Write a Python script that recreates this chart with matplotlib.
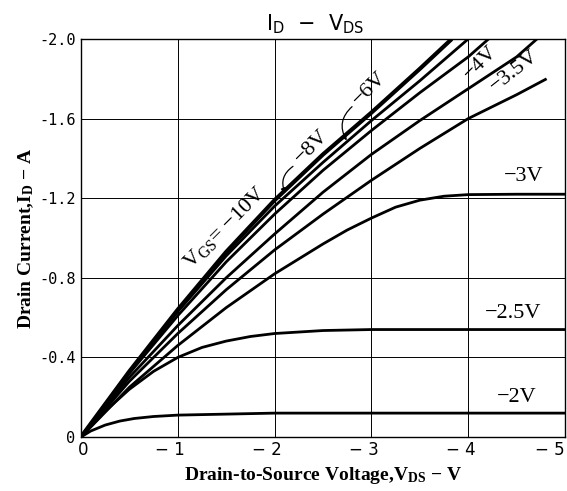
import matplotlib.pyplot as plt
import matplotlib.transforms as mtransforms
import numpy as np

plt.rcParams['mathtext.default'] = 'regular'

# |V_DS| (V) and |I_D| (A), one list pair per V_GS curve
v_10 = [0, 0.5, 1.0, 1.5, 2.0, 2.5, 3.0, 3.5, 3.83]
i_10 = [0, 0.33, 0.64, 0.93, 1.19, 1.42, 1.63, 1.85, 2.0]
v_8 = [0, 0.5, 1.0, 1.5, 2.0, 2.5, 3.0, 3.5, 4.0]
i_8 = [0, 0.33, 0.63, 0.91, 1.16, 1.38, 1.59, 1.79, 2.0]
v_6 = [0, 0.5, 1.0, 1.5, 2.0, 2.5, 3.0, 3.5, 4.0, 4.21]
i_6 = [0, 0.32, 0.61, 0.88, 1.12, 1.34, 1.54, 1.73, 1.91, 2.0]
v_4 = [0, 0.5, 1.0, 1.5, 2.0, 2.5, 3.0, 3.5, 4.0, 4.5, 4.71]
i_4 = [0, 0.30, 0.56, 0.80, 1.02, 1.23, 1.42, 1.59, 1.75, 1.91, 2.0]
v_35 = [0, 0.5, 1.0, 1.5, 2.0, 2.5, 3.0, 3.5, 4.0, 4.5, 4.81]
i_35 = [0, 0.28, 0.52, 0.74, 0.94, 1.12, 1.29, 1.45, 1.60, 1.72, 1.80]
v_3 = [0, 0.5, 1.0, 1.5, 2.0, 2.5, 2.75, 3.0, 3.25, 3.5, 3.75, 4.0, 4.5, 5.0]
i_3 = [0, 0.25, 0.46, 0.65, 0.82, 0.97, 1.04, 1.10, 1.155, 1.19, 1.21, 1.218, 1.22, 1.22]
v_25 = [0, 0.25, 0.5, 0.75, 1.0, 1.25, 1.5, 1.75, 2.0, 2.5, 3.0, 4.0, 5.0]
i_25 = [0, 0.13, 0.24, 0.33, 0.40, 0.45, 0.482, 0.505, 0.52, 0.535, 0.54, 0.54, 0.54]
v_2 = [0, 0.1, 0.25, 0.4, 0.55, 0.75, 1.0, 1.5, 2.0, 5.0]
i_2 = [0, 0.03, 0.06, 0.08, 0.093, 0.103, 0.11, 0.115, 0.12, 0.12]

curves = [(v_10, i_10, 3.0), (v_8, i_8, 2.0), (v_6, i_6, 2.0), (v_4, i_4, 2.0),
          (v_35, i_35, 2.0), (v_3, i_3, 2.0), (v_25, i_25, 2.0), (v_2, i_2, 2.0)]

x_ticks = [0, -1, -2, -3, -4, -5]
x_labels = ['0', '\u2212 1', '\u2212 2', '\u2212 3', '\u2212 4', '\u2212 5']
y_ticks = [0, -0.4, -0.8, -1.2, -1.6, -2.0]
y_labels = ['0', '-0.4', '-0.8', '-1.2', '-1.6', '-2.0']

fig = plt.figure(figsize=(5.67, 4.91), dpi=100)
ax = fig.add_axes([81 / 567, 1 - 437 / 491, 484 / 567, 398 / 491])

for v, i, lw in curves:
    ax.plot(-np.array(v), -np.array(i), color='black', lw=lw, solid_capstyle='butt')

ax.set_xlim(0, -5)
ax.set_ylim(0, -2.0)
ax.set_xticks(x_ticks)
ax.set_xticklabels(x_labels, fontsize=12, family='DejaVu Sans', ha='right')
ax.set_yticks(y_ticks)
ax.set_yticklabels(y_labels, fontsize=11, family='DejaVu Sans Mono')
ax.tick_params(length=0, pad=4)
ax.tick_params(axis='x', pad=3)
ax.grid(True, color='black', lw=0.7)
for s in ax.spines.values():
    s.set_linewidth(1.0)

xlabs = ax.get_xticklabels()
for k, lab in enumerate(xlabs):
    dx = 0 if k == len(xlabs) - 1 else 5
    off = mtransforms.ScaledTranslation(dx / 72, 0, fig.dpi_scale_trans)
    lab.set_transform(lab.get_transform() + off)

ax.set_xlabel('Drain-to-Source Voltage,V$_{DS}$ \u2212 V', family='Liberation Serif',
              fontweight='bold', fontsize=14, labelpad=4)
ax.set_ylabel('Drain Current,I$_{D}$ \u2212 A', family='Liberation Serif',
              fontweight='bold', fontsize=14, labelpad=2)
fig.text(315 / 567, 1 - 24 / 491, 'I$_{D}$  \u2212  V$_{DS}$', ha='center', va='center',
         fontsize=15, family='DejaVu Sans')

lab_kw = dict(family='Liberation Serif', fontsize=16, ha='center', va='center')
ax.text(-1.48, -1.05, 'V$_{GS}$= \u221210V', rotation=45, **lab_kw)
ax.text(-2.38, -1.46, '\u22128V', rotation=45, **lab_kw)
ax.text(-2.98, -1.75, '\u22126V', rotation=45, **lab_kw)
ax.text(-4.13, -1.88, '\u22124V', rotation=45, **lab_kw)
ax.text(-4.48, -1.84, '\u22123.5V', rotation=38, **lab_kw)
ax.text(-4.57, -1.31, '\u22123V', **lab_kw)
ax.text(-4.46, -0.62, '\u22122.5V', **lab_kw)
ax.text(-4.50, -0.20, '\u22122V', **lab_kw)

ax.annotate('', xy=(-2.11, -1.225), xytext=(-2.19, -1.36),
            arrowprops=dict(arrowstyle='-|>', mutation_scale=7, lw=0.9, color='black',
                            connectionstyle='arc3,rad=0.4', shrinkA=0, shrinkB=0))
ax.annotate('', xy=(-2.745, -1.49), xytext=(-2.80, -1.66),
            arrowprops=dict(arrowstyle='-|>', mutation_scale=7, lw=0.9, color='black',
                            connectionstyle='arc3,rad=0.4', shrinkA=0, shrinkB=0))

fig.savefig('out.png', dpi=100)
